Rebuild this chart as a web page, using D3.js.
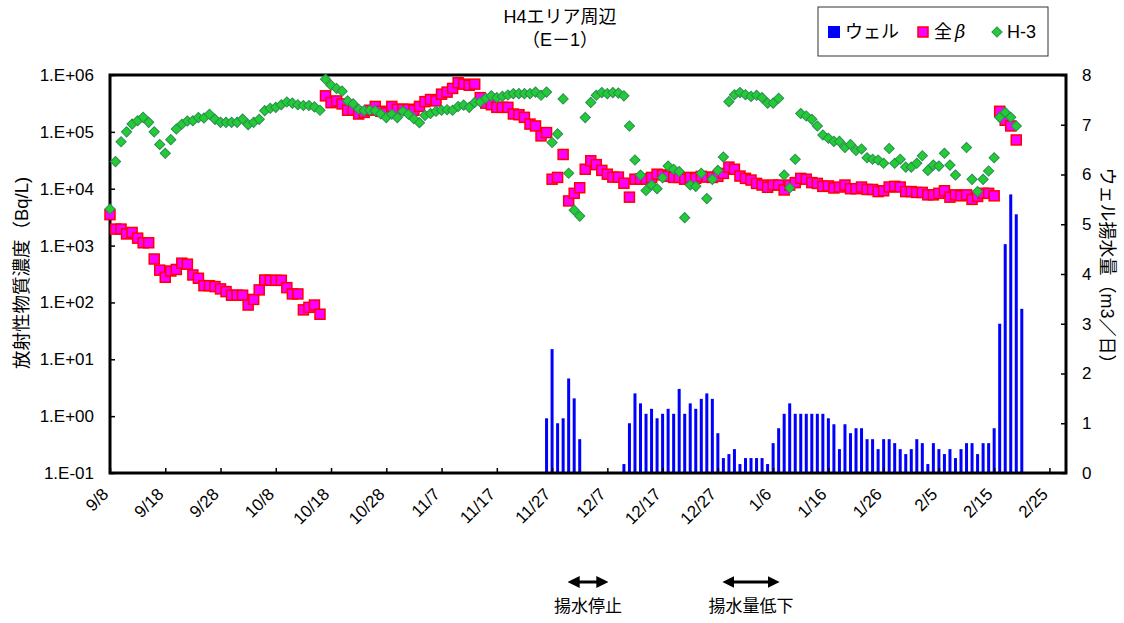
<!DOCTYPE html>
<html><head><meta charset="utf-8">
<script src="https://cdn.jsdelivr.net/npm/d3@7"></script>
<style>body{margin:0;background:#fff}svg{display:block}text{font-family:"Liberation Sans","Noto Sans CJK JP",Arial,sans-serif}</style>
</head><body><svg id="c" width="1124" height="623"></svg>
<script>
// ---- data ----
const dates = [
"9/8","9/9","9/10","9/11","9/12","9/13","9/14","9/15","9/16","9/17",
"9/18","9/19","9/20","9/21","9/22","9/23","9/24","9/25","9/26","9/27",
"9/28","9/29","9/30","10/1","10/2","10/3","10/4","10/5","10/6","10/7",
"10/8","10/9","10/10","10/11","10/12","10/13","10/14","10/15","10/16","10/17",
"10/18","10/19","10/20","10/21","10/22","10/23","10/24","10/25","10/26","10/27",
"10/28","10/29","10/30","10/31","11/1","11/2","11/3","11/4","11/5","11/6",
"11/7","11/8","11/9","11/10","11/11","11/12","11/13","11/14","11/15","11/16",
"11/17","11/18","11/19","11/20","11/21","11/22","11/23","11/24","11/25","11/26",
"11/27","11/28","11/29","11/30","12/1","12/2","12/3","12/4","12/5","12/6",
"12/7","12/8","12/9","12/10","12/11","12/12","12/13","12/14","12/15","12/16",
"12/17","12/18","12/19","12/20","12/21","12/22","12/23","12/24","12/25","12/26",
"12/27","12/28","12/29","12/30","12/31","1/1","1/2","1/3","1/4","1/5",
"1/6","1/7","1/8","1/9","1/10","1/11","1/12","1/13","1/14","1/15",
"1/16","1/17","1/18","1/19","1/20","1/21","1/22","1/23","1/24","1/25",
"1/26","1/27","1/28","1/29","1/30","1/31","2/1","2/2","2/3","2/4",
"2/5","2/6","2/7","2/8","2/9","2/10","2/11","2/12","2/13","2/14",
"2/15","2/16","2/17","2/18","2/19","2/20"];

const h3 = [
4.4e3,3.0e4,6.7e4,1.0e5,1.37e5,1.57e5,1.8e5,1.47e5,1.0e5,6.0e4,
4.2e4,7.3e4,1.12e5,1.36e5,1.55e5,1.57e5,1.78e5,1.75e5,2.04e5,1.66e5,
1.47e5,1.47e5,1.47e5,1.47e5,1.68e5,1.34e5,1.47e5,1.66e5,2.36e5,2.6e5,
2.7e5,3.0e5,3.35e5,3.2e5,3.0e5,2.9e5,2.9e5,2.75e5,2.4e5,8.4e5,
6.6e5,5.8e5,5.2e5,3.5e5,3.1e5,2.5e5,2.36e5,2.4e5,2.36e5,2.06e5,
1.78e5,2.04e5,1.78e5,2.3e5,2.04e5,1.7e5,1.45e5,1.95e5,2.1e5,2.3e5,
2.4e5,2.45e5,2.4e5,2.8e5,2.95e5,2.7e5,3.3e5,3.35e5,3.9e5,4.3e5,
4.0e5,4.2e5,4.45e5,4.7e5,4.7e5,4.7e5,4.7e5,5.0e5,4.4e5,5.0e5,
6.5e4,9.2e4,3.8e5,1.87e4,4.2e3,3.3e3,1.78e5,3.3e5,4.4e5,4.9e5,
4.7e5,4.9e5,4.8e5,4.3e5,1.27e5,3.2e4,1.74e4,9.3e3,1.16e4,1.0e4,
1.56e4,2.5e4,2.2e4,2.0e4,3.1e3,1.16e4,1.1e4,1.87e4,6.7e3,1.46e4,
2.1e4,3.6e4,3.4e5,4.5e5,4.9e5,4.5e5,4.2e5,4.4e5,4.0e5,3.2e5,
3.2e5,3.9e5,1.74e4,1.03e4,3.3e4,2.1e5,1.9e5,1.66e5,1.27e5,8.8e4,
7.7e4,6.8e4,6.8e4,5.3e4,6.0e4,4.7e4,5.0e4,3.5e4,3.3e4,3.2e4,
2.8e4,5.1e4,2.8e4,3.3e4,2.4e4,2.4e4,2.8e4,3.8e4,2.1e4,2.6e4,
2.5e4,4.2e4,2.6e4,1.74e4,null,5.3e4,1.46e4,8.9e3,1.46e4,2.05e4,
3.5e4,1.8e5,2.2e5,1.8e5,1.27e5,null];

const beta = [
3.5e3,1.95e3,1.95e3,1.6e3,1.7e3,1.35e3,1.12e3,1.12e3,580,370,
277,357,380,490,470,304,266,197,197,190,
173,155,134,134,134,90,113,166,248,245,
245,245,182,141,141,74,82,90,62,4.3e5,
3.26e5,3.5e5,3.1e5,2.4e5,2.4e5,2.06e5,2.2e5,2.4e5,2.8e5,2.3e5,
2.15e5,2.8e5,2.5e5,2.5e5,2.5e5,2.4e5,2.8e5,3.4e5,3.7e5,3.5e5,
4.6e5,5.0e5,5.8e5,7.3e5,6.9e5,6.6e5,6.9e5,4.0e5,3.2e5,3.0e5,
2.7e5,2.7e5,2.7e5,2.06e5,2.0e5,1.8e5,1.37e5,1.27e5,8.5e4,9.7e4,
1.47e4,1.58e4,4.0e4,6.1e3,8.3e3,1.04e4,2.2e4,3.1e4,2.65e4,2.1e4,
1.8e4,1.6e4,1.6e4,1.25e4,7.1e3,1.47e4,1.47e4,1.47e4,1.58e4,1.8e4,
1.75e4,1.65e4,1.58e4,1.58e4,1.47e4,1.58e4,1.52e4,1.65e4,1.6e4,1.58e4,
1.65e4,1.86e4,2.4e4,2.2e4,1.67e4,1.52e4,1.42e4,1.24e4,1.16e4,1.06e4,
1.16e4,1.16e4,9.5e3,1.16e4,1.28e4,1.52e4,1.47e4,1.28e4,1.24e4,1.1e4,
1.12e4,1.03e4,1.07e4,1.16e4,1.0e4,1.0e4,1.07e4,9.7e3,9.7e3,8.9e3,
9.2e3,1.07e4,1.1e4,1.07e4,8.9e3,8.9e3,8.6e3,8.6e3,7.8e3,7.8e3,
8.3e3,9.2e3,7.1e3,7.8e3,7.5e3,7.8e3,6.5e3,7.3e3,8.3e3,8.3e3,
7.5e3,2.3e5,1.6e5,1.27e5,7.2e4,null];

const well = [
null,null,null,null,null,null,null,null,null,null,
null,null,null,null,null,null,null,null,null,null,
null,null,null,null,null,null,null,null,null,null,
null,null,null,null,null,null,null,null,null,null,
null,null,null,null,null,null,null,null,null,null,
null,null,null,null,null,null,null,null,null,null,
null,null,null,null,null,null,null,null,null,null,
null,null,null,null,null,null,null,null,null,1.1,
2.49,1.0,1.1,1.9,1.5,0.68,null,null,null,null,
null,null,null,0.18,1.0,1.6,1.4,1.19,1.29,1.1,
1.19,1.29,1.19,1.69,1.19,1.4,1.29,1.49,1.6,1.49,
0.8,0.3,0.38,0.48,0.18,0.3,0.3,0.3,0.3,0.18,
0.6,0.9,1.19,1.4,1.19,1.19,1.19,1.19,1.19,1.19,
1.1,0.98,0.48,0.98,0.8,0.9,0.9,0.68,0.68,0.48,
0.68,0.68,0.6,0.48,0.38,0.48,0.68,0.6,0.18,0.6,
0.48,0.38,0.48,0.3,0.48,0.6,0.6,0.38,0.6,0.6,
0.9,3.0,4.6,5.6,5.2,3.3];

const xTickLabels = ["9/8","9/18","9/28","10/8","10/18","10/28","11/7","11/17","11/27","12/7","12/17","12/27","1/6","1/16","1/26","2/5","2/15","2/25"];
const leftTicks = [0.1,1,10,100,1e3,1e4,1e5,1e6];
const leftTickLabels = ["1.E-01","1.E+00","1.E+01","1.E+02","1.E+03","1.E+04","1.E+05","1.E+06"];
const rightTicks = [0,1,2,3,4,5,6,7,8];
const seriesNames = ["ウェル","全","H-3"];
const titleLines = ["H4エリア周辺","（E－1）"];
const leftTitle = "放射性物質濃度（Bq/L)";
const rightTitle = "ウェル揚水量（m3／日）";
const notes = [{from:"11/30", to:"12/7", label:"揚水停止"},{from:"12/28", to:"1/7", label:"揚水量低下"}];

// ---- helpers ----
function parseMD(s){const [m,d]=s.split("/").map(Number);return new Date(m>=9?2013:2014,m-1,d);}

const L=110,R=1066,T=75,B=473;
const svg=d3.select("#c");
const x=d3.scaleTime().domain([new Date(2013,8,8),new Date(2014,1,28)]).range([L,R]);
const yL=d3.scaleLog().domain([0.1,1e6]).range([B,T]);
const yR=d3.scaleLinear().domain([0,8]).range([B,T]);

const rows=dates.map((d,i)=>({date:parseMD(d),h3:h3[i],beta:beta[i],well:well[i]}));

// bars
svg.append("g").selectAll("rect").data(rows.filter(r=>r.well!=null)).join("rect")
 .attr("x",r=>x(r.date)-1.5).attr("width",3)
 .attr("y",r=>yR(r.well)).attr("height",r=>B-yR(r.well)).attr("fill","#0000FF");

// axes
const fs=17;
const ax=svg.append("g");
const gx=ax.append("g").attr("transform",`translate(0,${B})`)
 .call(d3.axisBottom(x).tickValues(xTickLabels.map(parseMD)).tickSize(-5).tickFormat(""));
gx.select(".domain").remove();
gx.selectAll("line").attr("stroke","#000").attr("stroke-width",1.5);
ax.append("g").selectAll("text").data(xTickLabels).join("text")
 .attr("transform",d=>`translate(${x(parseMD(d))-9},${B+14}) rotate(-45)`)
 .attr("text-anchor","end").attr("dy","0.7em").attr("font-size",fs).text(d=>d);
const gl=ax.append("g").attr("transform",`translate(${L},0)`)
 .call(d3.axisLeft(yL).tickValues(leftTicks).tickSize(-5).tickFormat((d,i)=>leftTickLabels[i]).tickPadding(16));
gl.select(".domain").remove();
gl.selectAll("line").attr("stroke","#000").attr("stroke-width",1.5);
gl.selectAll("text").attr("font-size",fs).attr("fill","#000").style("font-family",'"Liberation Sans",Arial,sans-serif');
const gr=ax.append("g").attr("transform",`translate(${R},0)`)
 .call(d3.axisRight(yR).tickValues(rightTicks).tickSize(-5).tickPadding(16).tickFormat(d3.format("d")));
gr.select(".domain").remove();
gr.selectAll("line").attr("stroke","#000").attr("stroke-width",1.5);
gr.selectAll("text").attr("font-size",fs).attr("fill","#000").style("font-family",'"Liberation Sans",Arial,sans-serif');

// frame
svg.append("rect").attr("x",L).attr("y",T).attr("width",R-L).attr("height",B-T)
 .attr("fill","none").attr("stroke","#000").attr("stroke-width",3);

// beta squares
svg.append("g").selectAll("rect").data(rows.filter(r=>r.beta!=null)).join("rect")
 .attr("x",r=>x(r.date)-5).attr("y",r=>yL(r.beta)-5).attr("width",10).attr("height",10)
 .attr("fill","#FF00FF").attr("stroke","#FF0000").attr("stroke-width",1.5);

// h3 diamonds
const dia=d3.symbol().type(d3.symbolSquare).size(52);
svg.append("g").selectAll("path").data(rows.filter(r=>r.h3!=null)).join("path")
 .attr("d",dia).attr("transform",r=>`translate(${x(r.date)},${yL(r.h3)}) rotate(45)`)
 .attr("fill","#22CC33").attr("stroke","#2E8B57").attr("stroke-width",1);

// title
svg.append("g").selectAll("text").data(titleLines).join("text")
 .attr("x",560).attr("y",(d,i)=>23+i*23).attr("text-anchor","middle").attr("font-size",18).text(d=>d);

// axis titles
svg.append("text").attr("transform","translate(28,273) rotate(-90)").attr("text-anchor","middle").attr("font-size",18.5).text(leftTitle);
svg.append("text").attr("transform","translate(1101,270) rotate(90)").attr("text-anchor","middle").attr("font-size",18).text(rightTitle);

// legend
const lg=svg.append("g");
lg.append("rect").attr("x",818).attr("y",7).attr("width",230).attr("height",49).attr("fill","#fff").attr("stroke","#333").attr("stroke-width",1);
lg.append("rect").attr("x",828).attr("y",26).attr("width",12).attr("height",12).attr("fill","#0000FF");
lg.append("text").attr("x",845).attr("y",38).attr("font-size",18).text(seriesNames[0]);
lg.append("rect").attr("x",918).attr("y",27).attr("width",10).attr("height",10).attr("fill","#FF00FF").attr("stroke","#FF0000").attr("stroke-width",1.5);
const bt=lg.append("text").attr("x",934).attr("y",38).attr("font-size",18);
bt.append("tspan").text(seriesNames[1]);
bt.append("tspan").attr("dx",3).attr("font-style","italic").attr("font-family","'DejaVu Serif',serif").text("β");
lg.append("path").attr("d",dia).attr("transform","translate(997,32) rotate(45)").attr("fill","#22CC33").attr("stroke","#2E8B57");
lg.append("text").attr("x",1007).attr("y",38).attr("font-size",18).text(seriesNames[2]);

// annotations
const defs=svg.append("defs");
defs.append("marker").attr("id","ah").attr("viewBox","0 0 10 10").attr("refX",5).attr("refY",5)
 .attr("markerWidth",4).attr("markerHeight",4).attr("orient","auto-start-reverse")
 .append("path").attr("d","M0,0L10,5L0,10Z").attr("fill","#000");
const ng=svg.append("g");
notes.forEach(n=>{
  const x1=x(parseMD(n.from)), x2=x(parseMD(n.to));
  ng.append("line").attr("x1",x1+5).attr("x2",x2-5).attr("y1",582).attr("y2",582)
    .attr("stroke","#000").attr("stroke-width",3).attr("marker-start","url(#ah)").attr("marker-end","url(#ah)");
  ng.append("text").attr("x",(x1+x2)/2).attr("y",612).attr("text-anchor","middle").attr("font-size",17).text(n.label);
});
</script></body></html>
